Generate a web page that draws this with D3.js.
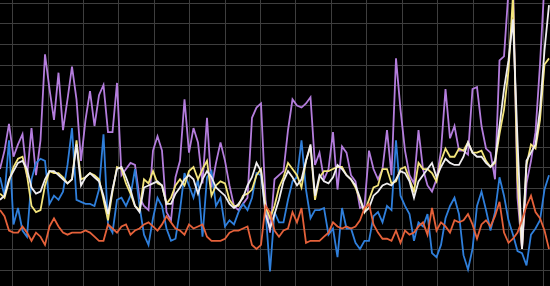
<!DOCTYPE html>
<html>
<head>
<meta charset="utf-8">
<script src="https://cdn.jsdelivr.net/npm/d3@7"></script>
<style>
  html, body { margin: 0; padding: 0; background: #000; overflow: hidden; }
  svg { display: block; }
</style>
</head>
<body>
<svg id="chart" width="550" height="286"></svg>
<script>
// Series values (one point per sample index 0..122)
const purple = [59,68,81,65,71,76,55,79,56,73,115,98,83,106,78,93,109,93,63,83,97,80,95,100,77,77,101,56,59,62,61,45,41,39,68,75,68,38,34,55,63,93,67,79,72,52,84,50,62,72,63,51,41,39,42,45,84,89,91,44,28,54,56,58,78,93,90,89,91,94,61,67,54,59,77,49,70,67,56,53,40,41,68,59,54,59,78,56,113,88,68,56,52,78,59,51,48,54,68,98,74,80,68,68,66,98,99,80,69,67,54,112,114,146,151,45,20,52,63,77,110,150,155];
const blue   = [55,46,73,32,40,29,26,54,62,64,63,42,46,44,48,61,79,44,43,42,42,41,49,76,32,28,44,45,41,46,59,41,27,22,35,45,41,30,24,25,39,57,51,45,54,26,55,58,41,45,31,34,32,38,42,39,45,57,56,39,9,38,33,33,44,53,55,73,49,35,39,39,40,27,30,16,40,30,30,23,20,24,24,36,38,33,41,39,73,46,41,37,24,33,31,37,18,16,22,35,41,45,37,17,10,20,41,48,39,29,38,55,46,34,27,19,18,12,27,30,34,49,56];
const yellow = [47,45,53,60,64,65,56,41,38,39,51,58,57,57,55,52,54,73,54,55,57,56,54,44,34,48,60,59,52,47,41,39,54,52,58,52,51,42,45,51,54,51,58,60,54,59,63,46,51,53,52,44,41,41,46,47,49,56,59,41,35,41,50,55,62,59,56,50,63,70,44,55,58,58,59,60,60,56,54,50,44,38,44,50,51,59,59,52,53,59,60,54,48,62,59,59,57,53,63,69,65,65,69,68,72,67,67,68,63,60,62,76,88,107,144,54,20,61,71,69,83,110,113];
const white  = [44,46,54,58,62,63,59,50,47,48,54,58,58,56,54,52,54,71,51,55,57,55,53,46,37,49,59,60,55,49,41,38,50,51,52,53,51,42,42,47,50,54,56,54,47,54,58,55,50,48,46,42,40,42,45,51,55,62,58,37,30,37,44,53,58,55,51,54,63,71,46,56,53,52,55,61,59,56,54,51,45,38,40,46,48,51,52,51,54,58,57,53,45,53,56,59,62,55,60,64,62,61,61,65,72,67,65,65,62,60,63,80,98,112,132,73,20,63,67,71,88,117,139];
const orange = [39,36,29,28,28,31,28,24,28,26,22,31,35,31,28,27,28,28,28,29,28,26,24,24,32,30,28,31,32,27,29,30,32,33,31,29,32,36,33,30,29,27,32,30,31,32,26,24,24,24,25,28,29,29,30,31,22,20,22,41,38,29,26,29,30,38,33,40,23,24,24,24,26,28,33,31,30,31,30,31,34,40,42,32,28,25,25,24,29,23,29,27,28,31,33,27,40,29,33,31,28,34,33,34,37,32,25,32,34,31,36,43,28,23,25,28,34,41,46,38,35,29,20];

const seriesList = [
  { name: "purple", values: purple, color: "#b47ddd" },
  { name: "blue",   values: blue,   color: "#2f7fdb" },
  { name: "yellow", values: yellow, color: "#f4e57c" },
  { name: "white",  values: white,  color: "#f0eef0" },
  { name: "orange", values: orange, color: "#e5613a" }
];

const yTicks = d3.range(10, 141, 10);

const W = 550, H = 286;
const svg = d3.select("#chart");
svg.append("rect").attr("width", W).attr("height", H).attr("fill", "#000");

const n = purple.length;
const x = d3.scaleLinear().domain([0, n - 1]).range([0, 549]);
const y = d3.scaleLinear().domain([0, 140]).range([290, 3]);

const xGrid = d3.range(2.73, n + 1, 7.867);

const grid = svg.append("g").attr("stroke", "#3e3e3e").attr("stroke-width", 1);
grid.selectAll("line.h").data(yTicks).join("line")
  .attr("class", "h")
  .attr("x1", 0).attr("x2", W)
  .attr("y1", d => Math.round(y(d)) + 0.5).attr("y2", d => Math.round(y(d)) + 0.5);
grid.selectAll("line.v").data(xGrid).join("line")
  .attr("class", "v")
  .attr("y1", 0).attr("y2", H)
  .attr("x1", d => Math.round(x(d)) + 0.5).attr("x2", d => Math.round(x(d)) + 0.5);

const line = d3.line().x((d, i) => x(i)).y(d => y(d));

svg.append("g").selectAll("path").data(seriesList).join("path")
  .attr("d", d => line(d.values))
  .attr("fill", "none")
  .attr("stroke", d => d.color)
  .attr("stroke-width", 1.8)
  .attr("stroke-linejoin", "miter")
  .attr("stroke-miterlimit", 4);
</script>
</body>
</html>
